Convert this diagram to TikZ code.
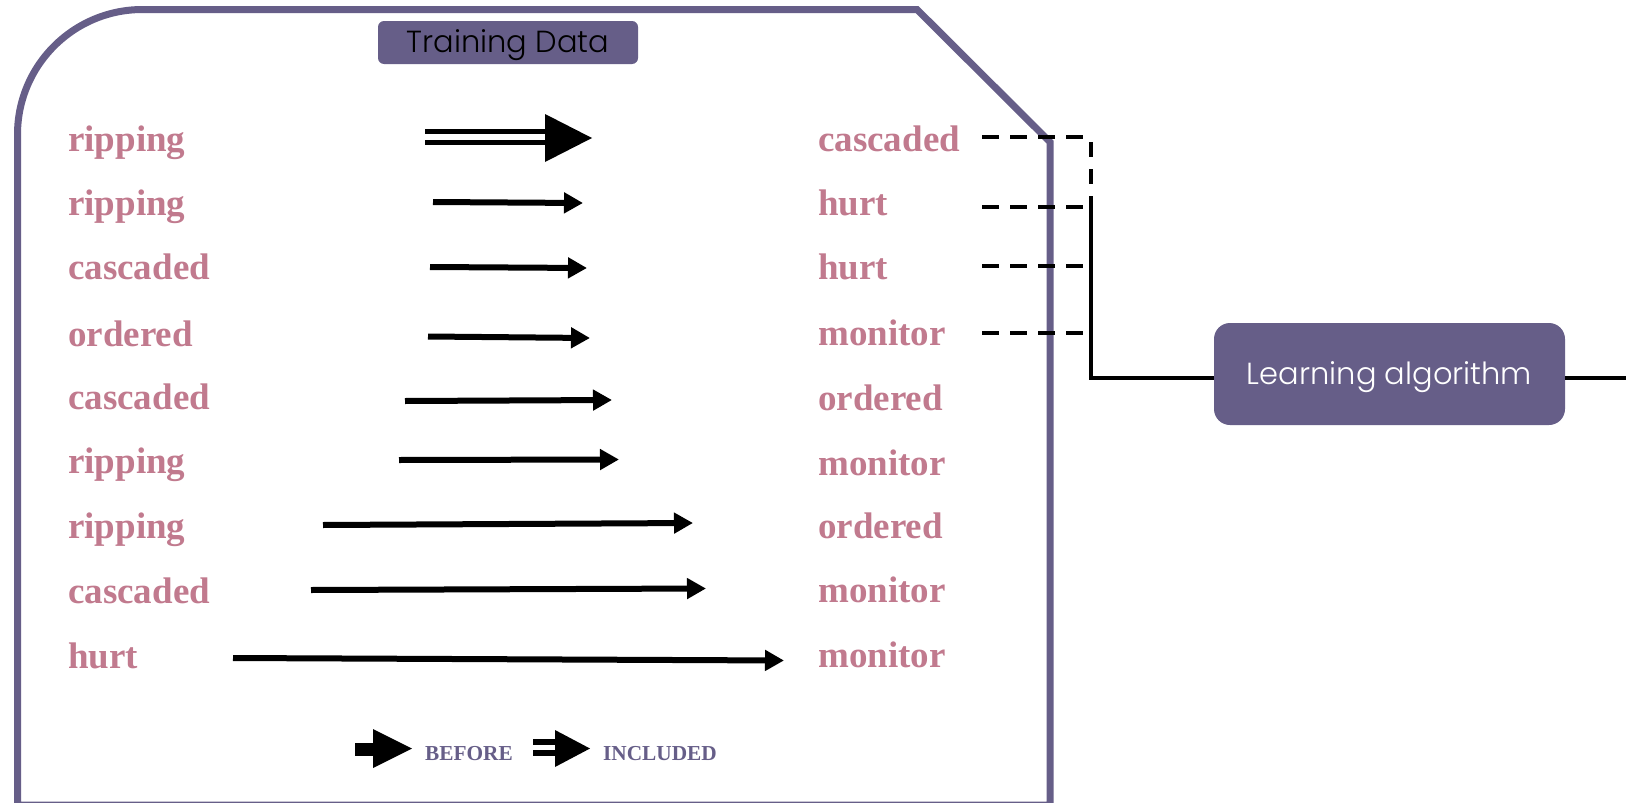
\documentclass[tikz,border=0pt]{standalone}
\usepackage{fontspec}
\setmainfont{Liberation Serif}
\newfontfamily\gothic{Poppins Light}
\usetikzlibrary{arrows.meta}
\definecolor{frameviolet}{RGB}{102,94,136}
\definecolor{wordpink}{RGB}{193,122,142}
\newcommand{\lowered}[1]{\raisebox{-3pt}[\height][\depth]{#1}}
\begin{document}
\begin{tikzpicture}[x=1pt,y=-1pt,
  word/.style={anchor=base west, inner sep=0pt, text=wordpink,
    font=\fontsize{37}{37}\selectfont\bfseries},
  legendtext/.style={anchor=base west, inner sep=0pt, text=frameviolet,
    font=\fontsize{21.3}{21.3}\selectfont\bfseries},
  mapto/.style={line width=6pt, -{Triangle[length=19pt,width=20pt]}},
  dashlink/.style={line width=4pt, dash pattern=on 17pt off 11pt},
  link/.style={line width=4pt},
  tagbox/.style={fill=frameviolet, rounded corners=6pt, inner sep=0pt},
  algbox/.style={fill=frameviolet, rounded corners=16pt, inner sep=0pt,
    text=white, font=\gothic\fontsize{30.5}{30.5}\selectfont}
]
\useasboundingbox[fill=white] (0,0) rectangle (1626,803);

% outer frame of the training set
\draw[frameviolet, line width=7pt]
  (17.5,805) [rounded corners=125pt] -- (17.5,9.5) [sharp corners] -- (917,9.5)
  -- (1050,142) -- (1050,805) -- cycle;

\node[tagbox, minimum width=260pt, minimum height=43pt] (tag) at (508,42.5)
  {\gothic\fontsize{30.5}{30.5}\selectfont\lowered{Training Data}};

% left and right columns of words
\foreach \n/\y/\w in {1/151/ripping, 2/215/ripping, 3/279/cascaded,
    4/346/ordered, 5/409/cascaded, 6/473/ripping, 7/538/ripping,
    8/603/cascaded, 9/668/hurt}
  \node[word] (l\n) at (68,\y) {\w};
\foreach \n/\y/\w in {1/151/cascaded, 2/215/hurt, 3/279/hurt,
    4/345/monitor, 5/410/ordered, 6/475/monitor, 7/538/ordered,
    8/602/monitor, 9/667/monitor}
  \node[word] (r\n) at (818,\y) {\w};

% included relation (double arrow)
\fill (425,129.3) rectangle (546,134.3);
\fill (425,140) rectangle (546,145.3);
\fill (545,114) -- (545,162) -- (592,138) -- cycle;

% before relations
\coordinate (a2s) at (433,202);   \coordinate (a2e) at (583,203);
\coordinate (a3s) at (430,267);   \coordinate (a3e) at (587,268);
\coordinate (a4s) at (428,336.5); \coordinate (a4e) at (590,338);
\coordinate (a5s) at (405,401);   \coordinate (a5e) at (612,400);
\coordinate (a6s) at (399,460);   \coordinate (a6e) at (619,459.5);
\coordinate (a7s) at (323,525);   \coordinate (a7e) at (693,523);
\coordinate (a8s) at (311,590);   \coordinate (a8e) at (706,588.5);
\coordinate (a9s) at (233,658);   \coordinate (a9e) at (784,660.5);
\foreach \i in {2,...,9}
  \draw[mapto] (a\i s) -- (a\i e);

% links from the first four targets to the learner
\foreach \i/\y in {1/137, 2/207, 3/266, 4/333}{
  \coordinate (h\i s) at (982,\y);
  \coordinate (h\i e) at (1085,\y);
  \draw[dashlink] (h\i s) -- (h\i e);
}
\node[algbox, minimum width=351pt, minimum height=102pt] (alg) at (1389.5,374)
  {\lowered{Learning algorithm}};
\coordinate (v0) at (1091,142);
\coordinate (v1) at (1091,197);
\coordinate (j)  at (1091,378);
\coordinate (out) at (1630,378);
\draw[link, dash pattern=on 15pt off 12pt] (v0) -- (v1);
\draw[link] (v1) -- (j) -- (j -| alg.west);
\draw[link] (j -| alg.east) -- (out);

% legend
\fill (355,742.5) rectangle (374,756);
\fill (373,729) -- (373,768) -- (412,748.5) -- cycle;
\node[legendtext] (lb) at (425,760) {BEFORE};
\fill (533,739) rectangle (556,744.5);
\fill (533,750) rectangle (556,756);
\fill (555,730) -- (555,767) -- (590,748.5) -- cycle;
\node[legendtext] (li) at (603,760) {INCLUDED};
\end{tikzpicture}
\end{document}
